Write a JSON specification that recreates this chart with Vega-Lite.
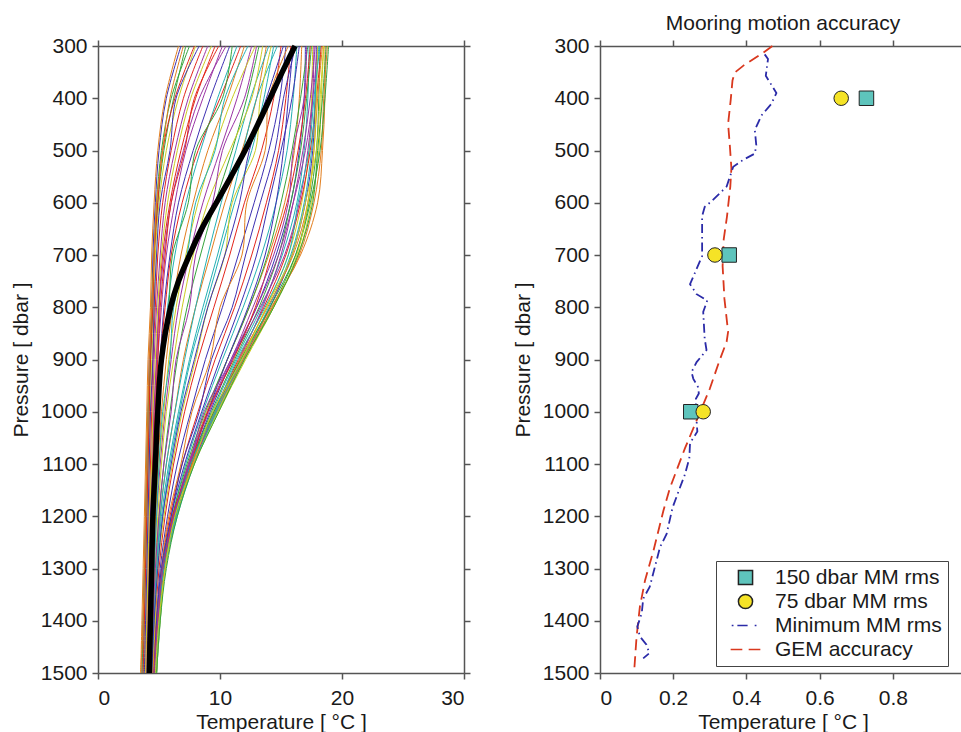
{
  "$schema": "https://vega.github.io/schema/vega-lite/v6.json",
  "padding": {"left": 10, "top": 13, "right": 0, "bottom": 0},
  "background": "white",
  "bounds": "flush",
  "spacing": 136,
  "config": {
    "font": "Liberation Sans",
    "view": {"stroke": null},
    "axis": {"labelFont": "Liberation Sans", "titleFont": "Liberation Sans", "labelFontSize": 21, "titleFontSize": 21, "titleFontWeight": "normal", "labelColor": "#1a1a1a", "titleColor": "#1a1a1a", "domainColor": "#555555", "tickColor": "#555555", "domainWidth": 1.5, "tickWidth": 1.5, "tickSize": 6, "grid": false},
    "axisLeft": {"labelPadding": 5, "titlePadding": 8, "minExtent": 59, "maxExtent": 59},
    "axisBottom": {"labelPadding": 8, "titlePadding": 3, "minExtent": 35, "maxExtent": 35},
    "axisTop": {"minExtent": 0, "maxExtent": 6},
    "axisRight": {"minExtent": 0, "maxExtent": 6},
    "legend": {"orient": "none", "legendX": 618, "legendY": 515, "labelFont": "Liberation Sans", "labelFontSize": 21, "labelColor": "#1a1a1a", "symbolSize": 200, "symbolStrokeWidth": 1.5, "padding": 6, "symbolOffset": 13, "labelOffset": 19, "rowPadding": 2, "strokeColor": "#444444", "fillColor": "white", "cornerRadius": 0, "labelLimit": 400}
  },
  "resolve": {"scale": {"x": "independent", "y": "independent"}},
  "datasets": {
    "profiles": [
{"i":1,"p":300,"t":6.8},{"i":1,"p":400,"t":5.6},{"i":1,"p":500,"t":5.0},{"i":1,"p":600,"t":4.7},{"i":1,"p":700,"t":4.5},{"i":1,"p":800,"t":4.4},{"i":1,"p":900,"t":4.2},{"i":1,"p":1000,"t":4.1},{"i":1,"p":1100,"t":4.0},{"i":1,"p":1200,"t":3.9},{"i":1,"p":1300,"t":3.8},{"i":1,"p":1400,"t":3.7},{"i":1,"p":1500,"t":3.6},
{"i":2,"p":300,"t":15.8},{"i":2,"p":400,"t":15.4},{"i":2,"p":500,"t":14.8},{"i":2,"p":600,"t":13.8},{"i":2,"p":700,"t":12.6},{"i":2,"p":800,"t":11.2},{"i":2,"p":900,"t":9.6},{"i":2,"p":1000,"t":8.2},{"i":2,"p":1100,"t":6.9},{"i":2,"p":1200,"t":5.9},{"i":2,"p":1300,"t":5.2},{"i":2,"p":1400,"t":4.8},{"i":2,"p":1500,"t":4.5},
{"i":3,"p":300,"t":7.5},{"i":3,"p":400,"t":6.0},{"i":3,"p":500,"t":5.2},{"i":3,"p":600,"t":4.8},{"i":3,"p":700,"t":4.6},{"i":3,"p":800,"t":4.5},{"i":3,"p":900,"t":4.3},{"i":3,"p":1000,"t":4.2},{"i":3,"p":1100,"t":4.1},{"i":3,"p":1200,"t":4.0},{"i":3,"p":1300,"t":3.9},{"i":3,"p":1400,"t":3.8},{"i":3,"p":1500,"t":3.7},
{"i":4,"p":300,"t":16.3},{"i":4,"p":400,"t":16.0},{"i":4,"p":500,"t":15.5},{"i":4,"p":600,"t":14.6},{"i":4,"p":700,"t":13.4},{"i":4,"p":800,"t":11.9},{"i":4,"p":900,"t":10.2},{"i":4,"p":1000,"t":8.6},{"i":4,"p":1100,"t":7.2},{"i":4,"p":1200,"t":6.1},{"i":4,"p":1300,"t":5.3},{"i":4,"p":1400,"t":4.9},{"i":4,"p":1500,"t":4.6},
{"i":5,"p":300,"t":12.6},{"i":5,"p":400,"t":11.4},{"i":5,"p":500,"t":10.0},{"i":5,"p":600,"t":8.6},{"i":5,"p":700,"t":7.5},{"i":5,"p":800,"t":6.6},{"i":5,"p":900,"t":6.0},{"i":5,"p":1000,"t":5.5},{"i":5,"p":1100,"t":5.1},{"i":5,"p":1200,"t":4.8},{"i":5,"p":1300,"t":4.6},{"i":5,"p":1400,"t":4.4},{"i":5,"p":1500,"t":4.3},
{"i":6,"p":300,"t":8.0},{"i":6,"p":400,"t":6.6},{"i":6,"p":500,"t":5.6},{"i":6,"p":600,"t":5.0},{"i":6,"p":700,"t":4.7},{"i":6,"p":800,"t":4.6},{"i":6,"p":900,"t":4.4},{"i":6,"p":1000,"t":4.3},{"i":6,"p":1100,"t":4.2},{"i":6,"p":1200,"t":4.1},{"i":6,"p":1300,"t":4.0},{"i":6,"p":1400,"t":3.9},{"i":6,"p":1500,"t":3.8},
{"i":7,"p":300,"t":16.7},{"i":7,"p":400,"t":16.5},{"i":7,"p":500,"t":16.1},{"i":7,"p":600,"t":15.3},{"i":7,"p":700,"t":14.0},{"i":7,"p":800,"t":12.4},{"i":7,"p":900,"t":10.6},{"i":7,"p":1000,"t":8.9},{"i":7,"p":1100,"t":7.4},{"i":7,"p":1200,"t":6.2},{"i":7,"p":1300,"t":5.4},{"i":7,"p":1400,"t":4.9},{"i":7,"p":1500,"t":4.6},
{"i":8,"p":300,"t":17.0},{"i":8,"p":400,"t":16.9},{"i":8,"p":500,"t":16.5},{"i":8,"p":600,"t":15.8},{"i":8,"p":700,"t":14.6},{"i":8,"p":800,"t":13.0},{"i":8,"p":900,"t":11.0},{"i":8,"p":1000,"t":9.2},{"i":8,"p":1100,"t":7.6},{"i":8,"p":1200,"t":6.3},{"i":8,"p":1300,"t":5.4},{"i":8,"p":1400,"t":5.0},{"i":8,"p":1500,"t":4.7},
{"i":9,"p":300,"t":8.6},{"i":9,"p":400,"t":7.0},{"i":9,"p":500,"t":6.0},{"i":9,"p":600,"t":5.3},{"i":9,"p":700,"t":4.9},{"i":9,"p":800,"t":4.7},{"i":9,"p":900,"t":4.5},{"i":9,"p":1000,"t":4.4},{"i":9,"p":1100,"t":4.3},{"i":9,"p":1200,"t":4.2},{"i":9,"p":1300,"t":4.1},{"i":9,"p":1400,"t":4.0},{"i":9,"p":1500,"t":3.9},
{"i":10,"p":300,"t":13.2},{"i":10,"p":400,"t":12.2},{"i":10,"p":500,"t":11.0},{"i":10,"p":600,"t":9.6},{"i":10,"p":700,"t":8.4},{"i":10,"p":800,"t":7.3},{"i":10,"p":900,"t":6.5},{"i":10,"p":1000,"t":5.9},{"i":10,"p":1100,"t":5.4},{"i":10,"p":1200,"t":5.0},{"i":10,"p":1300,"t":4.7},{"i":10,"p":1400,"t":4.5},{"i":10,"p":1500,"t":4.3},
{"i":11,"p":300,"t":17.3},{"i":11,"p":400,"t":17.2},{"i":11,"p":500,"t":16.9},{"i":11,"p":600,"t":16.3},{"i":11,"p":700,"t":15.1},{"i":11,"p":800,"t":13.4},{"i":11,"p":900,"t":11.3},{"i":11,"p":1000,"t":9.4},{"i":11,"p":1100,"t":7.7},{"i":11,"p":1200,"t":6.3},{"i":11,"p":1300,"t":5.5},{"i":11,"p":1400,"t":5.0},{"i":11,"p":1500,"t":4.7},
{"i":12,"p":300,"t":9.0},{"i":12,"p":400,"t":7.4},{"i":12,"p":500,"t":6.3},{"i":12,"p":600,"t":5.5},{"i":12,"p":700,"t":5.1},{"i":12,"p":800,"t":4.8},{"i":12,"p":900,"t":4.6},{"i":12,"p":1000,"t":4.5},{"i":12,"p":1100,"t":4.4},{"i":12,"p":1200,"t":4.3},{"i":12,"p":1300,"t":4.2},{"i":12,"p":1400,"t":4.1},{"i":12,"p":1500,"t":4.0},
{"i":13,"p":300,"t":17.6},{"i":13,"p":400,"t":17.5},{"i":13,"p":500,"t":17.3},{"i":13,"p":600,"t":16.7},{"i":13,"p":700,"t":15.6},{"i":13,"p":800,"t":13.8},{"i":13,"p":900,"t":11.7},{"i":13,"p":1000,"t":9.6},{"i":13,"p":1100,"t":7.8},{"i":13,"p":1200,"t":6.4},{"i":13,"p":1300,"t":5.5},{"i":13,"p":1400,"t":5.0},{"i":13,"p":1500,"t":4.7},
{"i":14,"p":300,"t":13.8},{"i":14,"p":400,"t":13.0},{"i":14,"p":500,"t":11.8},{"i":14,"p":600,"t":10.4},{"i":14,"p":700,"t":9.2},{"i":14,"p":800,"t":8.0},{"i":14,"p":900,"t":7.0},{"i":14,"p":1000,"t":6.3},{"i":14,"p":1100,"t":5.6},{"i":14,"p":1200,"t":5.1},{"i":14,"p":1300,"t":4.8},{"i":14,"p":1400,"t":4.6},{"i":14,"p":1500,"t":4.4},
{"i":15,"p":300,"t":17.9},{"i":15,"p":400,"t":17.8},{"i":15,"p":500,"t":17.6},{"i":15,"p":600,"t":17.0},{"i":15,"p":700,"t":15.9},{"i":15,"p":800,"t":14.1},{"i":15,"p":900,"t":11.9},{"i":15,"p":1000,"t":9.7},{"i":15,"p":1100,"t":7.8},{"i":15,"p":1200,"t":6.4},{"i":15,"p":1300,"t":5.5},{"i":15,"p":1400,"t":5.0},{"i":15,"p":1500,"t":4.8},
{"i":16,"p":300,"t":9.6},{"i":16,"p":400,"t":8.0},{"i":16,"p":500,"t":6.8},{"i":16,"p":600,"t":5.9},{"i":16,"p":700,"t":5.3},{"i":16,"p":800,"t":5.0},{"i":16,"p":900,"t":4.8},{"i":16,"p":1000,"t":4.6},{"i":16,"p":1100,"t":4.5},{"i":16,"p":1200,"t":4.4},{"i":16,"p":1300,"t":4.3},{"i":16,"p":1400,"t":4.2},{"i":16,"p":1500,"t":4.1},
{"i":17,"p":300,"t":18.2},{"i":17,"p":400,"t":18.1},{"i":17,"p":500,"t":17.9},{"i":17,"p":600,"t":17.3},{"i":17,"p":700,"t":16.2},{"i":17,"p":800,"t":14.3},{"i":17,"p":900,"t":12.0},{"i":17,"p":1000,"t":9.8},{"i":17,"p":1100,"t":7.8},{"i":17,"p":1200,"t":6.4},{"i":17,"p":1300,"t":5.5},{"i":17,"p":1400,"t":5.0},{"i":17,"p":1500,"t":4.8},
{"i":18,"p":300,"t":14.4},{"i":18,"p":400,"t":13.6},{"i":18,"p":500,"t":12.6},{"i":18,"p":600,"t":11.2},{"i":18,"p":700,"t":10.0},{"i":18,"p":800,"t":8.8},{"i":18,"p":900,"t":7.6},{"i":18,"p":1000,"t":6.7},{"i":18,"p":1100,"t":5.9},{"i":18,"p":1200,"t":5.3},{"i":18,"p":1300,"t":4.9},{"i":18,"p":1400,"t":4.6},{"i":18,"p":1500,"t":4.4},
{"i":19,"p":300,"t":10.2},{"i":19,"p":400,"t":8.6},{"i":19,"p":500,"t":7.2},{"i":19,"p":600,"t":6.3},{"i":19,"p":700,"t":5.6},{"i":19,"p":800,"t":5.2},{"i":19,"p":900,"t":4.9},{"i":19,"p":1000,"t":4.7},{"i":19,"p":1100,"t":4.6},{"i":19,"p":1200,"t":4.5},{"i":19,"p":1300,"t":4.4},{"i":19,"p":1400,"t":4.3},{"i":19,"p":1500,"t":4.2},
{"i":20,"p":300,"t":18.5},{"i":20,"p":400,"t":18.3},{"i":20,"p":500,"t":18.1},{"i":20,"p":600,"t":17.5},{"i":20,"p":700,"t":16.4},{"i":20,"p":800,"t":14.4},{"i":20,"p":900,"t":12.0},{"i":20,"p":1000,"t":9.8},{"i":20,"p":1100,"t":7.8},{"i":20,"p":1200,"t":6.4},{"i":20,"p":1300,"t":5.5},{"i":20,"p":1400,"t":5.0},{"i":20,"p":1500,"t":4.8},
{"i":21,"p":300,"t":18.8},{"i":21,"p":400,"t":18.5},{"i":21,"p":500,"t":18.3},{"i":21,"p":600,"t":17.7},{"i":21,"p":700,"t":16.5},{"i":21,"p":800,"t":14.3},{"i":21,"p":900,"t":11.9},{"i":21,"p":1000,"t":9.7},{"i":21,"p":1100,"t":7.7},{"i":21,"p":1200,"t":6.3},{"i":21,"p":1300,"t":5.4},{"i":21,"p":1400,"t":5.0},{"i":21,"p":1500,"t":4.7},
{"i":22,"p":300,"t":10.8},{"i":22,"p":400,"t":9.2},{"i":22,"p":500,"t":7.8},{"i":22,"p":600,"t":6.6},{"i":22,"p":700,"t":5.9},{"i":22,"p":800,"t":5.4},{"i":22,"p":900,"t":5.1},{"i":22,"p":1000,"t":4.9},{"i":22,"p":1100,"t":4.7},{"i":22,"p":1200,"t":4.6},{"i":22,"p":1300,"t":4.5},{"i":22,"p":1400,"t":4.3},{"i":22,"p":1500,"t":4.2},
{"i":23,"p":300,"t":15.0},{"i":23,"p":400,"t":14.4},{"i":23,"p":500,"t":13.4},{"i":23,"p":600,"t":12.0},{"i":23,"p":700,"t":10.8},{"i":23,"p":800,"t":9.5},{"i":23,"p":900,"t":8.2},{"i":23,"p":1000,"t":7.1},{"i":23,"p":1100,"t":6.2},{"i":23,"p":1200,"t":5.5},{"i":23,"p":1300,"t":5.0},{"i":23,"p":1400,"t":4.7},{"i":23,"p":1500,"t":4.5},
{"i":24,"p":300,"t":17.5},{"i":24,"p":400,"t":17.1},{"i":24,"p":500,"t":16.6},{"i":24,"p":600,"t":15.8},{"i":24,"p":700,"t":14.8},{"i":24,"p":800,"t":13.2},{"i":24,"p":900,"t":11.2},{"i":24,"p":1000,"t":9.3},{"i":24,"p":1100,"t":7.6},{"i":24,"p":1200,"t":6.3},{"i":24,"p":1300,"t":5.4},{"i":24,"p":1400,"t":5.0},{"i":24,"p":1500,"t":4.7},
{"i":25,"p":300,"t":11.4},{"i":25,"p":400,"t":9.8},{"i":25,"p":500,"t":8.4},{"i":25,"p":600,"t":7.2},{"i":25,"p":700,"t":6.3},{"i":25,"p":800,"t":5.7},{"i":25,"p":900,"t":5.3},{"i":25,"p":1000,"t":5.0},{"i":25,"p":1100,"t":4.8},{"i":25,"p":1200,"t":4.6},{"i":25,"p":1300,"t":4.5},{"i":25,"p":1400,"t":4.4},{"i":25,"p":1500,"t":4.3},
{"i":26,"p":300,"t":18.0},{"i":26,"p":400,"t":17.6},{"i":26,"p":500,"t":17.0},{"i":26,"p":600,"t":16.0},{"i":26,"p":700,"t":14.8},{"i":26,"p":800,"t":13.0},{"i":26,"p":900,"t":10.9},{"i":26,"p":1000,"t":9.0},{"i":26,"p":1100,"t":7.4},{"i":26,"p":1200,"t":6.2},{"i":26,"p":1300,"t":5.3},{"i":26,"p":1400,"t":4.9},{"i":26,"p":1500,"t":4.6},
{"i":27,"p":300,"t":12.9},{"i":27,"p":400,"t":11.0},{"i":27,"p":500,"t":9.5},{"i":27,"p":600,"t":8.2},{"i":27,"p":700,"t":7.2},{"i":27,"p":800,"t":6.4},{"i":27,"p":900,"t":5.8},{"i":27,"p":1000,"t":5.4},{"i":27,"p":1100,"t":5.0},{"i":27,"p":1200,"t":4.7},{"i":27,"p":1300,"t":4.5},{"i":27,"p":1400,"t":4.4},{"i":27,"p":1500,"t":4.2},
{"i":28,"p":300,"t":12.0},{"i":28,"p":400,"t":10.6},{"i":28,"p":500,"t":9.0},{"i":28,"p":600,"t":7.8},{"i":28,"p":700,"t":6.8},{"i":28,"p":800,"t":6.1},{"i":28,"p":900,"t":5.6},{"i":28,"p":1000,"t":5.2},{"i":28,"p":1100,"t":4.9},{"i":28,"p":1200,"t":4.7},{"i":28,"p":1300,"t":4.6},{"i":28,"p":1400,"t":4.5},{"i":28,"p":1500,"t":4.3},
{"i":29,"p":300,"t":16.5},{"i":29,"p":400,"t":15.9},{"i":29,"p":500,"t":15.0},{"i":29,"p":600,"t":14.0},{"i":29,"p":700,"t":13.0},{"i":29,"p":800,"t":11.6},{"i":29,"p":900,"t":10.0},{"i":29,"p":1000,"t":8.5},{"i":29,"p":1100,"t":7.1},{"i":29,"p":1200,"t":6.0},{"i":29,"p":1300,"t":5.3},{"i":29,"p":1400,"t":4.8},{"i":29,"p":1500,"t":4.6},
{"i":30,"p":300,"t":18.3},{"i":30,"p":400,"t":17.9},{"i":30,"p":500,"t":17.4},{"i":30,"p":600,"t":16.6},{"i":30,"p":700,"t":15.4},{"i":30,"p":800,"t":13.6},{"i":30,"p":900,"t":11.5},{"i":30,"p":1000,"t":9.5},{"i":30,"p":1100,"t":7.7},{"i":30,"p":1200,"t":6.3},{"i":30,"p":1300,"t":5.4},{"i":30,"p":1400,"t":5.0},{"i":30,"p":1500,"t":4.7},
{"i":31,"p":300,"t":7.2},{"i":31,"p":400,"t":6.2},{"i":31,"p":500,"t":5.4},{"i":31,"p":600,"t":4.9},{"i":31,"p":700,"t":4.6},{"i":31,"p":800,"t":4.4},{"i":31,"p":900,"t":4.3},{"i":31,"p":1000,"t":4.1},{"i":31,"p":1100,"t":4.0},{"i":31,"p":1200,"t":3.9},{"i":31,"p":1300,"t":3.8},{"i":31,"p":1400,"t":3.7},{"i":31,"p":1500,"t":3.6},
{"i":32,"p":300,"t":14.0},{"i":32,"p":400,"t":12.5},{"i":32,"p":500,"t":11.3},{"i":32,"p":600,"t":10.1},{"i":32,"p":700,"t":9.0},{"i":32,"p":800,"t":8.0},{"i":32,"p":900,"t":7.1},{"i":32,"p":1000,"t":6.3},{"i":32,"p":1100,"t":5.6},{"i":32,"p":1200,"t":5.1},{"i":32,"p":1300,"t":4.8},{"i":32,"p":1400,"t":4.5},{"i":32,"p":1500,"t":4.3},
{"i":33,"p":300,"t":17.8},{"i":33,"p":400,"t":17.4},{"i":33,"p":500,"t":16.8},{"i":33,"p":600,"t":16.0},{"i":33,"p":700,"t":15.0},{"i":33,"p":800,"t":13.5},{"i":33,"p":900,"t":11.6},{"i":33,"p":1000,"t":9.6},{"i":33,"p":1100,"t":7.8},{"i":33,"p":1200,"t":6.4},{"i":33,"p":1300,"t":5.5},{"i":33,"p":1400,"t":5.0},{"i":33,"p":1500,"t":4.7},
{"i":34,"p":300,"t":9.3},{"i":34,"p":400,"t":7.6},{"i":34,"p":500,"t":6.5},{"i":34,"p":600,"t":5.7},{"i":34,"p":700,"t":5.2},{"i":34,"p":800,"t":4.9},{"i":34,"p":900,"t":4.7},{"i":34,"p":1000,"t":4.5},{"i":34,"p":1100,"t":4.4},{"i":34,"p":1200,"t":4.2},{"i":34,"p":1300,"t":4.1},{"i":34,"p":1400,"t":4.0},{"i":34,"p":1500,"t":3.9},
{"i":35,"p":300,"t":18.6},{"i":35,"p":400,"t":18.6},{"i":35,"p":500,"t":18.4},{"i":35,"p":600,"t":18.0},{"i":35,"p":700,"t":16.6},{"i":35,"p":800,"t":14.2},{"i":35,"p":900,"t":11.8},{"i":35,"p":1000,"t":9.6},{"i":35,"p":1100,"t":7.6},{"i":35,"p":1200,"t":6.2},{"i":35,"p":1300,"t":5.4},{"i":35,"p":1400,"t":4.9},{"i":35,"p":1500,"t":4.7},
{"i":36,"p":300,"t":15.4},{"i":36,"p":400,"t":14.9},{"i":36,"p":500,"t":14.0},{"i":36,"p":600,"t":12.8},{"i":36,"p":700,"t":11.5},{"i":36,"p":800,"t":10.2},{"i":36,"p":900,"t":8.8},{"i":36,"p":1000,"t":7.6},{"i":36,"p":1100,"t":6.5},{"i":36,"p":1200,"t":5.7},{"i":36,"p":1300,"t":5.1},{"i":36,"p":1400,"t":4.8},{"i":36,"p":1500,"t":4.5},
{"i":37,"p":300,"t":7.9},{"i":37,"p":400,"t":6.3},{"i":37,"p":500,"t":5.3},{"i":37,"p":600,"t":4.9},{"i":37,"p":700,"t":4.6},{"i":37,"p":800,"t":4.5},{"i":37,"p":900,"t":4.3},{"i":37,"p":1000,"t":4.2},{"i":37,"p":1100,"t":4.1},{"i":37,"p":1200,"t":4.0},{"i":37,"p":1300,"t":3.9},{"i":37,"p":1400,"t":3.8},{"i":37,"p":1500,"t":3.7},
{"i":38,"p":300,"t":17.2},{"i":38,"p":400,"t":16.6},{"i":38,"p":500,"t":15.9},{"i":38,"p":600,"t":15.0},{"i":38,"p":700,"t":13.9},{"i":38,"p":800,"t":12.4},{"i":38,"p":900,"t":10.6},{"i":38,"p":1000,"t":8.8},{"i":38,"p":1100,"t":7.3},{"i":38,"p":1200,"t":6.1},{"i":38,"p":1300,"t":5.3},{"i":38,"p":1400,"t":4.9},{"i":38,"p":1500,"t":4.6},
{"i":39,"p":300,"t":18.1},{"i":39,"p":400,"t":17.8},{"i":39,"p":500,"t":17.5},{"i":39,"p":600,"t":16.9},{"i":39,"p":700,"t":15.8},{"i":39,"p":800,"t":14.0},{"i":39,"p":900,"t":11.8},{"i":39,"p":1000,"t":9.7},{"i":39,"p":1100,"t":7.9},{"i":39,"p":1200,"t":6.5},{"i":39,"p":1300,"t":5.5},{"i":39,"p":1400,"t":5.1},{"i":39,"p":1500,"t":4.8},
{"i":40,"p":300,"t":10.5},{"i":40,"p":400,"t":8.3},{"i":40,"p":500,"t":7.0},{"i":40,"p":600,"t":6.0},{"i":40,"p":700,"t":5.4},{"i":40,"p":800,"t":5.0},{"i":40,"p":900,"t":4.8},{"i":40,"p":1000,"t":4.6},{"i":40,"p":1100,"t":4.5},{"i":40,"p":1200,"t":4.4},{"i":40,"p":1300,"t":4.3},{"i":40,"p":1400,"t":4.2},{"i":40,"p":1500,"t":4.1},
{"i":41,"p":300,"t":13.5},{"i":41,"p":400,"t":12.6},{"i":41,"p":500,"t":10.8},{"i":41,"p":600,"t":9.0},{"i":41,"p":700,"t":7.8},{"i":41,"p":800,"t":6.9},{"i":41,"p":900,"t":6.2},{"i":41,"p":1000,"t":5.6},{"i":41,"p":1100,"t":5.2},{"i":41,"p":1200,"t":4.9},{"i":41,"p":1300,"t":4.7},{"i":41,"p":1400,"t":4.5},{"i":41,"p":1500,"t":4.3},
{"i":42,"p":300,"t":18.4},{"i":42,"p":400,"t":18.0},{"i":42,"p":500,"t":17.7},{"i":42,"p":600,"t":17.2},{"i":42,"p":700,"t":16.0},{"i":42,"p":800,"t":13.9},{"i":42,"p":900,"t":11.6},{"i":42,"p":1000,"t":9.5},{"i":42,"p":1100,"t":7.7},{"i":42,"p":1200,"t":6.3},{"i":42,"p":1300,"t":5.4},{"i":42,"p":1400,"t":5.0},{"i":42,"p":1500,"t":4.7},
{"i":43,"p":300,"t":16.0},{"i":43,"p":400,"t":15.6},{"i":43,"p":500,"t":15.2},{"i":43,"p":600,"t":14.6},{"i":43,"p":700,"t":13.7},{"i":43,"p":800,"t":12.3},{"i":43,"p":900,"t":10.6},{"i":43,"p":1000,"t":9.0},{"i":43,"p":1100,"t":7.5},{"i":43,"p":1200,"t":6.2},{"i":43,"p":1300,"t":5.4},{"i":43,"p":1400,"t":4.9},{"i":43,"p":1500,"t":4.6},
{"i":44,"p":300,"t":11.7},{"i":44,"p":400,"t":10.0},{"i":44,"p":500,"t":8.2},{"i":44,"p":600,"t":6.9},{"i":44,"p":700,"t":6.0},{"i":44,"p":800,"t":5.5},{"i":44,"p":900,"t":5.1},{"i":44,"p":1000,"t":4.8},{"i":44,"p":1100,"t":4.6},{"i":44,"p":1200,"t":4.5},{"i":44,"p":1300,"t":4.4},{"i":44,"p":1400,"t":4.3},{"i":44,"p":1500,"t":4.2},
{"i":45,"p":300,"t":18.9},{"i":45,"p":400,"t":18.6},{"i":45,"p":500,"t":18.2},{"i":45,"p":600,"t":17.4},{"i":45,"p":700,"t":16.2},{"i":45,"p":800,"t":14.1},{"i":45,"p":900,"t":11.7},{"i":45,"p":1000,"t":9.5},{"i":45,"p":1100,"t":7.6},{"i":45,"p":1200,"t":6.3},{"i":45,"p":1300,"t":5.4},{"i":45,"p":1400,"t":5.0},{"i":45,"p":1500,"t":4.7},
{"i":46,"p":300,"t":14.7},{"i":46,"p":400,"t":13.0},{"i":46,"p":500,"t":11.9},{"i":46,"p":600,"t":10.9},{"i":46,"p":700,"t":9.8},{"i":46,"p":800,"t":8.6},{"i":46,"p":900,"t":7.5},{"i":46,"p":1000,"t":6.6},{"i":46,"p":1100,"t":5.8},{"i":46,"p":1200,"t":5.2},{"i":46,"p":1300,"t":4.8},{"i":46,"p":1400,"t":4.6},{"i":46,"p":1500,"t":4.4},
{"i":47,"p":300,"t":17.7},{"i":47,"p":400,"t":17.6},{"i":47,"p":500,"t":17.2},{"i":47,"p":600,"t":16.5},{"i":47,"p":700,"t":15.3},{"i":47,"p":800,"t":13.3},{"i":47,"p":900,"t":11.0},{"i":47,"p":1000,"t":9.1},{"i":47,"p":1100,"t":7.5},{"i":47,"p":1200,"t":6.2},{"i":47,"p":1300,"t":5.4},{"i":47,"p":1400,"t":4.9},{"i":47,"p":1500,"t":4.6},
{"i":48,"p":300,"t":18.0},{"i":48,"p":400,"t":17.9},{"i":48,"p":500,"t":17.7},{"i":48,"p":600,"t":17.2},{"i":48,"p":700,"t":16.3},{"i":48,"p":800,"t":14.4},{"i":48,"p":900,"t":12.1},{"i":48,"p":1000,"t":9.9},{"i":48,"p":1100,"t":7.9},{"i":48,"p":1200,"t":6.4},{"i":48,"p":1300,"t":5.5},{"i":48,"p":1400,"t":5.1},{"i":48,"p":1500,"t":4.8},
{"i":49,"p":300,"t":6.6},{"i":49,"p":400,"t":5.5},{"i":49,"p":500,"t":4.9},{"i":49,"p":600,"t":4.6},{"i":49,"p":700,"t":4.4},{"i":49,"p":800,"t":4.3},{"i":49,"p":900,"t":4.1},{"i":49,"p":1000,"t":4.0},{"i":49,"p":1100,"t":3.9},{"i":49,"p":1200,"t":3.8},{"i":49,"p":1300,"t":3.7},{"i":49,"p":1400,"t":3.6},{"i":49,"p":1500,"t":3.5},
{"i":50,"p":300,"t":8.3},{"i":50,"p":400,"t":6.4},{"i":50,"p":500,"t":5.9},{"i":50,"p":600,"t":5.1},{"i":50,"p":700,"t":4.8},{"i":50,"p":800,"t":4.6},{"i":50,"p":900,"t":4.5},{"i":50,"p":1000,"t":4.3},{"i":50,"p":1100,"t":4.2},{"i":50,"p":1200,"t":4.1},{"i":50,"p":1300,"t":4.0},{"i":50,"p":1400,"t":3.9},{"i":50,"p":1500,"t":3.8},
{"i":51,"p":300,"t":9.9},{"i":51,"p":400,"t":7.9},{"i":51,"p":500,"t":7.1},{"i":51,"p":600,"t":6.0},{"i":51,"p":700,"t":5.5},{"i":51,"p":800,"t":5.1},{"i":51,"p":900,"t":4.9},{"i":51,"p":1000,"t":4.7},{"i":51,"p":1100,"t":4.5},{"i":51,"p":1200,"t":4.4},{"i":51,"p":1300,"t":4.3},{"i":51,"p":1400,"t":4.2},{"i":51,"p":1500,"t":4.1},
{"i":52,"p":300,"t":11.0},{"i":52,"p":400,"t":10.2},{"i":52,"p":500,"t":8.0},{"i":52,"p":600,"t":7.4},{"i":52,"p":700,"t":6.1},{"i":52,"p":800,"t":5.8},{"i":52,"p":900,"t":5.2},{"i":52,"p":1000,"t":5.0},{"i":52,"p":1100,"t":4.8},{"i":52,"p":1200,"t":4.6},{"i":52,"p":1300,"t":4.4},{"i":52,"p":1400,"t":4.3},{"i":52,"p":1500,"t":4.2},
{"i":53,"p":300,"t":12.3},{"i":53,"p":400,"t":10.4},{"i":53,"p":500,"t":9.6},{"i":53,"p":600,"t":8.0},{"i":53,"p":700,"t":7.3},{"i":53,"p":800,"t":6.2},{"i":53,"p":900,"t":5.9},{"i":53,"p":1000,"t":5.3},{"i":53,"p":1100,"t":5.0},{"i":53,"p":1200,"t":4.8},{"i":53,"p":1300,"t":4.6},{"i":53,"p":1400,"t":4.4},{"i":53,"p":1500,"t":4.3},
{"i":54,"p":300,"t":13.0},{"i":54,"p":400,"t":12.0},{"i":54,"p":500,"t":10.2},{"i":54,"p":600,"t":9.4},{"i":54,"p":700,"t":8.0},{"i":54,"p":800,"t":7.5},{"i":54,"p":900,"t":6.4},{"i":54,"p":1000,"t":6.0},{"i":54,"p":1100,"t":5.4},{"i":54,"p":1200,"t":5.0},{"i":54,"p":1300,"t":4.7},{"i":54,"p":1400,"t":4.5},{"i":54,"p":1500,"t":4.3},
{"i":55,"p":300,"t":14.2},{"i":55,"p":400,"t":13.3},{"i":55,"p":500,"t":12.9},{"i":55,"p":600,"t":11.0},{"i":55,"p":700,"t":10.4},{"i":55,"p":800,"t":9.0},{"i":55,"p":900,"t":8.0},{"i":55,"p":1000,"t":6.9},{"i":55,"p":1100,"t":6.1},{"i":55,"p":1200,"t":5.4},{"i":55,"p":1300,"t":4.9},{"i":55,"p":1400,"t":4.7},{"i":55,"p":1500,"t":4.5},
{"i":56,"p":300,"t":15.6},{"i":56,"p":400,"t":14.0},{"i":56,"p":500,"t":13.7},{"i":56,"p":600,"t":12.2},{"i":56,"p":700,"t":11.8},{"i":56,"p":800,"t":10.0},{"i":56,"p":900,"t":9.2},{"i":56,"p":1000,"t":7.7},{"i":56,"p":1100,"t":6.8},{"i":56,"p":1200,"t":5.8},{"i":56,"p":1300,"t":5.2},{"i":56,"p":1400,"t":4.8},{"i":56,"p":1500,"t":4.5},
{"i":57,"p":300,"t":16.2},{"i":57,"p":400,"t":15.2},{"i":57,"p":500,"t":14.5},{"i":57,"p":600,"t":13.3},{"i":57,"p":700,"t":12.1},{"i":57,"p":800,"t":11.0},{"i":57,"p":900,"t":9.3},{"i":57,"p":1000,"t":8.3},{"i":57,"p":1100,"t":6.9},{"i":57,"p":1200,"t":6.0},{"i":57,"p":1300,"t":5.2},{"i":57,"p":1400,"t":4.8},{"i":57,"p":1500,"t":4.6},
{"i":58,"p":300,"t":17.4},{"i":58,"p":400,"t":17.0},{"i":58,"p":500,"t":16.4},{"i":58,"p":600,"t":15.5},{"i":58,"p":700,"t":14.2},{"i":58,"p":800,"t":12.9},{"i":58,"p":900,"t":11.1},{"i":58,"p":1000,"t":9.0},{"i":58,"p":1100,"t":7.6},{"i":58,"p":1200,"t":6.1},{"i":58,"p":1300,"t":5.4},{"i":58,"p":1400,"t":4.9},{"i":58,"p":1500,"t":4.6},
{"i":59,"p":300,"t":18.7},{"i":59,"p":400,"t":18.4},{"i":59,"p":500,"t":18.0},{"i":59,"p":600,"t":17.6},{"i":59,"p":700,"t":16.4},{"i":59,"p":800,"t":14.4},{"i":59,"p":900,"t":12.0},{"i":59,"p":1000,"t":9.9},{"i":59,"p":1100,"t":7.9},{"i":59,"p":1200,"t":6.5},{"i":59,"p":1300,"t":5.6},{"i":59,"p":1400,"t":5.1},{"i":59,"p":1500,"t":4.8},
{"i":60,"p":300,"t":18.2},{"i":60,"p":400,"t":17.7},{"i":60,"p":500,"t":17.3},{"i":60,"p":600,"t":16.4},{"i":60,"p":700,"t":15.6},{"i":60,"p":800,"t":13.7},{"i":60,"p":900,"t":11.4},{"i":60,"p":1000,"t":9.6},{"i":60,"p":1100,"t":7.6},{"i":60,"p":1200,"t":6.4},{"i":60,"p":1300,"t":5.4},{"i":60,"p":1400,"t":5.0},{"i":60,"p":1500,"t":4.7},
{"i":61,"p":300,"t":17.1},{"i":61,"p":400,"t":16.9},{"i":61,"p":500,"t":16.0},{"i":61,"p":600,"t":15.6},{"i":61,"p":700,"t":14.4},{"i":61,"p":800,"t":12.7},{"i":61,"p":900,"t":10.9},{"i":61,"p":1000,"t":8.7},{"i":61,"p":1100,"t":7.5},{"i":61,"p":1200,"t":6.2},{"i":61,"p":1300,"t":5.3},{"i":61,"p":1400,"t":4.9},{"i":61,"p":1500,"t":4.6},
{"i":62,"p":300,"t":18.5},{"i":62,"p":400,"t":18.2},{"i":62,"p":500,"t":17.9},{"i":62,"p":600,"t":17.0},{"i":62,"p":700,"t":15.9},{"i":62,"p":800,"t":13.8},{"i":62,"p":900,"t":11.8},{"i":62,"p":1000,"t":9.4},{"i":62,"p":1100,"t":7.8},{"i":62,"p":1200,"t":6.3},{"i":62,"p":1300,"t":5.5},{"i":62,"p":1400,"t":5.0},{"i":62,"p":1500,"t":4.7},
{"i":63,"p":300,"t":7.0},{"i":63,"p":400,"t":5.9},{"i":63,"p":500,"t":5.3},{"i":63,"p":600,"t":4.8},{"i":63,"p":700,"t":4.6},{"i":63,"p":800,"t":4.4},{"i":63,"p":900,"t":4.2},{"i":63,"p":1000,"t":4.1},{"i":63,"p":1100,"t":4.0},{"i":63,"p":1200,"t":3.9},{"i":63,"p":1300,"t":3.8},{"i":63,"p":1400,"t":3.7},{"i":63,"p":1500,"t":3.5},
{"i":64,"p":300,"t":15.2},{"i":64,"p":400,"t":13.8},{"i":64,"p":500,"t":12.4},{"i":64,"p":600,"t":11.6},{"i":64,"p":700,"t":10.4},{"i":64,"p":800,"t":9.0},{"i":64,"p":900,"t":7.9},{"i":64,"p":1000,"t":6.8},{"i":64,"p":1100,"t":6.0},{"i":64,"p":1200,"t":5.3},{"i":64,"p":1300,"t":4.9},{"i":64,"p":1400,"t":4.6},{"i":64,"p":1500,"t":4.4}
    ],
    "mean": [
{"p":300,"t":16.15},{"p":350,"t":15.1},{"p":400,"t":14.1},{"p":450,"t":13.1},{"p":500,"t":12.05},{"p":550,"t":10.9},{"p":600,"t":9.7},{"p":650,"t":8.5},{"p":700,"t":7.5},{"p":750,"t":6.6},{"p":800,"t":5.95},{"p":900,"t":5.2},{"p":1000,"t":4.9},{"p":1100,"t":4.7},{"p":1200,"t":4.5},{"p":1300,"t":4.4},{"p":1400,"t":4.3},{"p":1500,"t":4.2}
    ],
    "gem": [
{"p":300,"t":0.471},{"p":313,"t":0.446},{"p":338,"t":0.391},{"p":351,"t":0.368},{"p":366,"t":0.362},{"p":404,"t":0.357},{"p":449,"t":0.350},{"p":493,"t":0.355},{"p":534,"t":0.359},{"p":569,"t":0.356},{"p":626,"t":0.347},{"p":670,"t":0.338},{"p":721,"t":0.335},{"p":784,"t":0.340},{"p":847,"t":0.350},{"p":866,"t":0.346},{"p":901,"t":0.327},{"p":956,"t":0.300},{"p":1025,"t":0.259},{"p":1070,"t":0.232},{"p":1146,"t":0.191},{"p":1190,"t":0.173},{"p":1266,"t":0.146},{"p":1323,"t":0.123},{"p":1373,"t":0.109},{"p":1430,"t":0.100},{"p":1500,"t":0.093}
    ],
    "minmm": [
{"p":316,"t":0.450},{"p":325,"t":0.459},{"p":357,"t":0.453},{"p":390,"t":0.482},{"p":411,"t":0.468},{"p":433,"t":0.441},{"p":461,"t":0.423},{"p":490,"t":0.427},{"p":506,"t":0.423},{"p":518,"t":0.391},{"p":531,"t":0.364},{"p":569,"t":0.346},{"p":597,"t":0.305},{"p":608,"t":0.286},{"p":626,"t":0.279},{"p":702,"t":0.279},{"p":756,"t":0.246},{"p":775,"t":0.264},{"p":787,"t":0.293},{"p":809,"t":0.282},{"p":860,"t":0.286},{"p":882,"t":0.291},{"p":905,"t":0.264},{"p":924,"t":0.250},{"p":937,"t":0.255},{"p":953,"t":0.268},{"p":965,"t":0.270},{"p":975,"t":0.262},{"p":1000,"t":0.262},{"p":1038,"t":0.266},{"p":1060,"t":0.246},{"p":1089,"t":0.244},{"p":1120,"t":0.232},{"p":1146,"t":0.218},{"p":1184,"t":0.198},{"p":1234,"t":0.182},{"p":1259,"t":0.164},{"p":1297,"t":0.150},{"p":1335,"t":0.136},{"p":1358,"t":0.118},{"p":1386,"t":0.114},{"p":1411,"t":0.102},{"p":1430,"t":0.109},{"p":1446,"t":0.127},{"p":1462,"t":0.135},{"p":1472,"t":0.118}
    ],
    "mm": [
{"series":"150 dbar MM rms","p":400,"t":0.728},{"series":"150 dbar MM rms","p":700,"t":0.353},{"series":"150 dbar MM rms","p":1000,"t":0.248},
{"series":"75 dbar MM rms","p":400,"t":0.659},{"series":"75 dbar MM rms","p":700,"t":0.314},{"series":"75 dbar MM rms","p":1000,"t":0.282}
    ]
  },
  "hconcat": [
    {
      "width": 366,
      "height": 627,
      "layer": [
        {
          "data": {"name": "profiles"},
          "mark": {"type": "line", "strokeWidth": 1, "interpolate": "catmull-rom", "clip": true},
          "encoding": {
            "x": {"field": "t", "type": "quantitative", "scale": {"domain": [0, 30], "nice": false, "zero": false}, "axis": {"orient": "bottom", "values": [0, 10, 20, 30], "title": "Temperature [ °C ]"}},
            "y": {"field": "p", "type": "quantitative", "scale": {"domain": [300, 1500], "reverse": true, "nice": false, "zero": false}, "axis": {"orient": "left", "values": [300, 400, 500, 600, 700, 800, 900, 1000, 1100, 1200, 1300, 1400, 1500], "format": "d", "title": "Pressure [ dbar ]"}},
            "color": {"field": "i", "type": "nominal", "legend": null, "scale": {"range": ["#3d30b2", "#e3261c", "#36a43c", "#24b0b4", "#9b34a4", "#cccc22", "#e27e1e"]}},
            "order": {"field": "p", "type": "quantitative"}
          }
        },
        {
          "data": {"name": "mean"},
          "mark": {"type": "line", "strokeWidth": 5.5, "color": "#000000", "interpolate": "catmull-rom"},
          "encoding": {
            "x": {"field": "t", "type": "quantitative", "scale": {"domain": [0, 30], "nice": false, "zero": false}, "axis": {"orient": "top", "values": [0, 10, 20, 30], "labels": false, "title": null}},
            "y": {"field": "p", "type": "quantitative", "scale": {"domain": [300, 1500], "reverse": true, "nice": false, "zero": false}, "axis": {"orient": "right", "values": [300, 400, 500, 600, 700, 800, 900, 1000, 1100, 1200, 1300, 1400, 1500], "labels": false, "title": null}},
            "order": {"field": "p", "type": "quantitative"}
          }
        }
      ],
      "resolve": {"axis": {"x": "independent", "y": "independent"}}
    },
    {
      "width": 366,
      "height": 627,
      "title": {"text": "Mooring motion accuracy", "font": "Liberation Sans", "fontSize": 21, "fontWeight": "normal", "color": "#1a1a1a", "offset": -20, "baseline": "bottom", "anchor": "middle"},
      "layer": [
        {
          "data": {"name": "gem"},
          "mark": {"type": "line", "strokeWidth": 1.8, "color": "#d9381e", "strokeDash": [11, 6]},
          "encoding": {
            "x": {"field": "t", "type": "quantitative", "scale": {"domain": [0, 1], "nice": false, "zero": false}, "axis": {"orient": "bottom", "values": [0, 0.2, 0.4, 0.6, 0.8], "format": "~g", "title": "Temperature [ °C ]"}},
            "y": {"field": "p", "type": "quantitative", "scale": {"domain": [300, 1500], "reverse": true, "nice": false, "zero": false}, "axis": {"orient": "left", "values": [300, 400, 500, 600, 700, 800, 900, 1000, 1100, 1200, 1300, 1400, 1500], "format": "d", "title": "Pressure [ dbar ]"}},
            "order": {"field": "p", "type": "quantitative"}
          }
        },
        {
          "data": {"name": "minmm"},
          "mark": {"type": "line", "strokeWidth": 1.8, "color": "#2b2ba8", "strokeDash": [9, 4, 1.5, 4]},
          "encoding": {
            "x": {"field": "t", "type": "quantitative", "scale": {"domain": [0, 1], "nice": false, "zero": false}, "axis": {"orient": "top", "values": [0, 0.2, 0.4, 0.6, 0.8, 1], "labels": false, "title": null}},
            "y": {"field": "p", "type": "quantitative", "scale": {"domain": [300, 1500], "reverse": true, "nice": false, "zero": false}, "axis": {"orient": "right", "values": [300, 400, 500, 600, 700, 800, 900, 1000, 1100, 1200, 1300, 1400, 1500], "labels": false, "title": null}},
            "order": {"field": "p", "type": "quantitative"}
          }
        },
        {
          "data": {"name": "mm"},
          "mark": {"type": "point", "filled": true, "size": 210, "strokeWidth": 1, "opacity": 1},
          "encoding": {
            "x": {"field": "t", "type": "quantitative", "scale": {"domain": [0, 1], "nice": false, "zero": false}, "axis": null},
            "y": {"field": "p", "type": "quantitative", "scale": {"domain": [300, 1500], "reverse": true, "nice": false, "zero": false}, "axis": null},
            "shape": {"field": "series", "type": "nominal", "title": null, "scale": {"domain": ["150 dbar MM rms", "75 dbar MM rms", "Minimum MM rms", "GEM accuracy"], "range": ["square", "circle", "M-1.95,0H-1.7M-1.15,0H0.3M1.3,0H1.55", "M-2.1,0H-0.45M0.45,0H2.1"]}},
            "fill": {"field": "series", "type": "nominal", "title": null, "scale": {"domain": ["150 dbar MM rms", "75 dbar MM rms", "Minimum MM rms", "GEM accuracy"], "range": ["#5ec4bc", "#f5e326", "transparent", "transparent"]}},
            "stroke": {"field": "series", "type": "nominal", "title": null, "scale": {"domain": ["150 dbar MM rms", "75 dbar MM rms", "Minimum MM rms", "GEM accuracy"], "range": ["#222222", "#222222", "#2b2ba8", "#d9381e"]}}
          }
        }
      ],
      "resolve": {"axis": {"x": "independent", "y": "independent"}}
    }
  ]
}
